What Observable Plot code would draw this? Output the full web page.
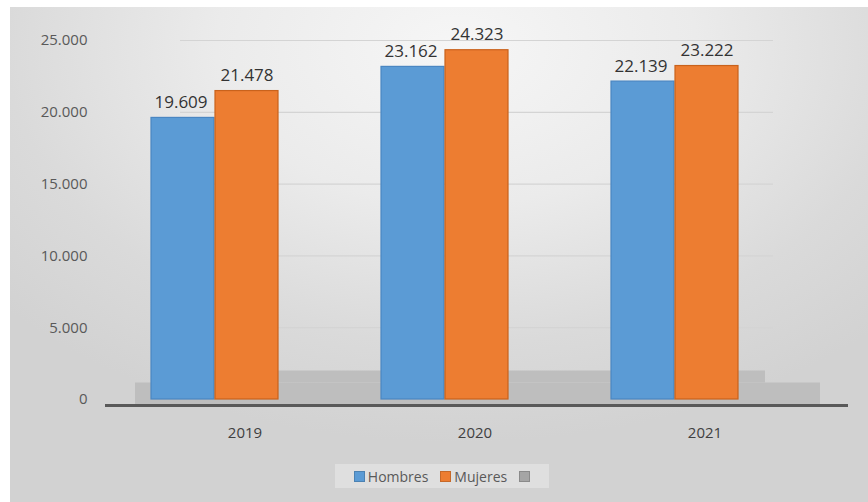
<!DOCTYPE html>
<html>
<head>
<meta charset="utf-8">
<script src="https://cdn.jsdelivr.net/npm/d3@7"></script>
<script src="https://cdn.jsdelivr.net/npm/@observablehq/plot@0.6"></script>
<style>
  html, body { margin: 0; padding: 0; background: #ffffff; }
  #wrap { position: relative; width: 868px; height: 502px; overflow: hidden; background: #ffffff; font-family: "Open Sans", sans-serif; }
  #bg { position: absolute; left: 10px; top: 7px; width: 858px; height: 495px;
        background: radial-gradient(ellipse 70% 80% at 52% 8%, #f6f6f6 0%, #ebebeb 40%, #dadada 75%, #d2d2d2 100%); }
  #chart { position: absolute; left: 0; top: 0; }
  #legend { position: absolute; left: 335px; top: 464px; width: 214px; height: 24px;
            display: flex; align-items: center; justify-content: center; gap: 12px;
            font-size: 14px; color: #595959; background: rgba(240,240,240,0.45); }
  .item { display: flex; align-items: center; gap: 3px; }
  .sw { width: 11px; height: 11px; box-sizing: border-box; }
</style>
</head>
<body>
<div id="wrap">
  <div id="bg"></div>
  <div id="chart"></div>
  <div id="legend"></div>
</div>
<script>
// ---- data ----
const years = ["2019", "2020", "2021"];
const series = ["Hombres", "Mujeres"];
const hombres = [19609, 23162, 22139];
const mujeres = [21478, 24323, 23222];
const yTicks = [0, 5000, 10000, 15000, 20000, 25000];
const yTickLabels = ["0", "5.000", "10.000", "15.000", "20.000", "25.000"];
const legendLabels = ["Hombres", "Mujeres", ""];

// ---- styles ----
const fills = ["#5b9bd5", "#ed7d31"];
const strokes = ["#4a86c2", "#c9621c"];
const legendFills = ["#5b9bd5", "#ed7d31", "#a5a5a5"];

const hData = years.map((y, i) => ({year: y, sex: series[0], value: hombres[i]}));
const mData = years.map((y, i) => ({year: y, sex: series[1], value: mujeres[i]}));

const fmt = d3.formatLocale({thousands: ".", grouping: [3], decimal: ","}).format(",d");

const half = 64; // half of a year's band, in px (band = 128)

const chart = Plot.plot({
  width: 868,
  height: 455,
  marginLeft: 100,
  marginRight: 8,
  marginTop: 40,
  marginBottom: 56,
  style: {background: "transparent", fontFamily: "'Open Sans', sans-serif", overflow: "visible"},
  x: {domain: years, range: [47, 843], paddingInner: 0.446, paddingOuter: 0.446, axis: null},
  y: {domain: [0, 25000], axis: null},
  marks: [
    Plot.ruleY(yTicks.slice(1), {stroke: "#d4d4d4", strokeWidth: 1.2, insetLeft: 80, insetRight: 87}),
    Plot.ruleY([0], {stroke: "#bebebe", strokeWidth: 12, dy: -23, insetLeft: 80, insetRight: 95}),
    Plot.ruleY([0], {stroke: "#bebebe", strokeWidth: 22, dy: -6, insetLeft: 35, insetRight: 40}),
    Plot.ruleY([0], {stroke: "#595959", strokeWidth: 3, dy: 6, insetLeft: 5, insetRight: 12}),
    Plot.barY(hData, {x: "year", y: "value", fill: fills[0], stroke: strokes[0], strokeWidth: 1.2, insetRight: half}),
    Plot.barY(mData, {x: "year", y: "value", fill: fills[1], stroke: strokes[1], strokeWidth: 1.2, insetLeft: half}),
    Plot.text(hData, {x: "year", y: "value", text: d => fmt(d.value), dx: -half / 2 - 2,
      dy: -10, lineAnchor: "bottom", fontSize: 17, fill: "#333333"}),
    Plot.text(mData, {x: "year", y: "value", text: d => fmt(d.value), dx: half / 2,
      dy: -10, lineAnchor: "bottom", fontSize: 17, fill: "#333333"}),
    Plot.axisY(yTicks, {tickFormat: (d, i) => yTickLabels[i], tickSize: 0, tickPadding: 13,
      fontSize: 15, color: "#595959", label: null}),
    Plot.axisX({anchor: "bottom", tickSize: 0, tickPadding: 28, dx: 30, fontSize: 15, color: "#404040", label: null})
  ]
});
document.getElementById("chart").appendChild(chart);

// ---- legend ----
const legend = document.getElementById("legend");
legendLabels.forEach((lab, i) => {
  const it = document.createElement("div");
  it.className = "item";
  const sw = document.createElement("span");
  sw.className = "sw";
  sw.style.background = legendFills[i];
  sw.style.border = "1px solid " + d3.color(legendFills[i]).darker(0.5);
  it.appendChild(sw);
  if (lab) {
    const t = document.createElement("span");
    t.textContent = lab;
    it.appendChild(t);
  }
  legend.appendChild(it);
});
</script>
</body>
</html>
